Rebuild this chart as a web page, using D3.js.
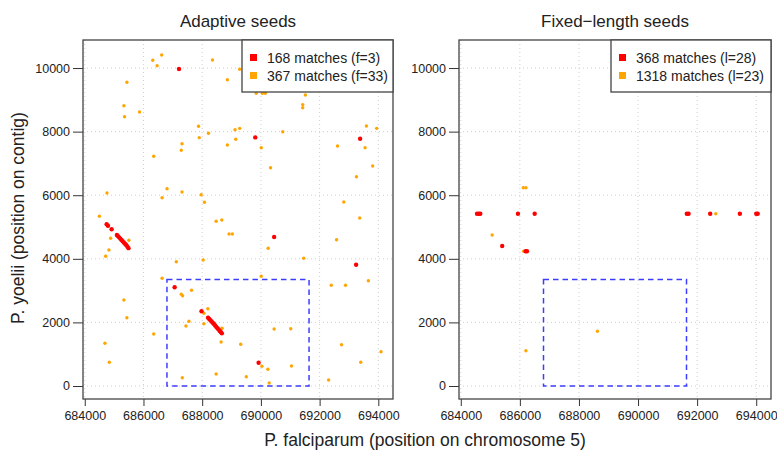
<!DOCTYPE html>
<html>
<head>
<meta charset="utf-8">
<script src="https://cdn.jsdelivr.net/npm/d3@7"></script>
<style>
  body { margin: 0; background: #fff; }
  svg { display: block; font-family: "Liberation Sans", Arial, Helvetica, sans-serif; }
</style>
</head>
<body>
<svg id="chart" width="777" height="452"></svg>
<script>
// values (x = P. falciparum pos, y = P. yoelii pos)
const xTicks = [684000, 686000, 688000, 690000, 692000, 694000];
const yTicks = [0, 2000, 4000, 6000, 8000, 10000];
const panelTitles = ['Adaptive seeds', 'Fixed\u2212length seeds'];
const legendLabels = [
  ['168 matches (f=3)', '367 matches (f=33)'],
  ['368 matches (l=28)', '1318 matches (l=23)']
];
// region of interest (dashed box)
const roi = [686800, 0, 691640, 3350];

const adaptiveRed = [
  [687210, 9970], [689808, 7819], [693380, 7778], [690451, 4686], [693243, 3815],
  [687061, 3104], [689922, 733],
  [684745, 5085], [684790, 5040], [684915, 4930], [685095, 4750], [685130, 4715],
  [685170, 4675], [685210, 4635], [685250, 4595], [685290, 4555], [685330, 4515],
  [685370, 4475], [685410, 4435], [685450, 4390], [685490, 4335],
  [687977, 2349], [688200, 2150], [688240, 2110], [688280, 2070], [688320, 2030],
  [688360, 1990], [688400, 1950], [688440, 1905], [688480, 1860], [688520, 1815],
  [688560, 1775], [688600, 1730], [688640, 1690], [688670, 1655]
];
const adaptiveOrange = [
  [686620, 10410], [686316, 10243], [686464, 10073], [688350, 10253], [688858, 9633],
  [685435, 9551], [685333, 8816], [685865, 8617], [685356, 8470], [687875, 8167],
  [689119, 8061], [687899, 7810], [688214, 7947], [688858, 7579], [689143, 7759],
  [687312, 7620], [687288, 7413], [686349, 7224], [689278, 9960], [689840, 9205],
  [690050, 9205], [690150, 9205], [691515, 9152], [691424, 8750], [691424, 8850],
  [689278, 8104], [690745, 7997], [690011, 7494], [692611, 7548], [693594, 8177],
  [693943, 8104], [693549, 7494], [693255, 6583], [693807, 6919], [690329, 6866],
  [684757, 6070], [686803, 6205], [686634, 5922], [687312, 6101], [687966, 6017],
  [688078, 5777], [684498, 5337], [688475, 5180], [688668, 5221], [688915, 4780],
  [689028, 4780], [684881, 4645], [685502, 4582], [684824, 4277], [684712, 4079],
  [687119, 3910], [688034, 3963], [686634, 3387], [692824, 5787], [693367, 5284],
  [692577, 4601], [690248, 4331], [691458, 4016], [690011, 3450], [692397, 3167],
  [692882, 3167], [693661, 3312], [685333, 2705], [685435, 2148], [684688, 1343],
  [684837, 745], [686349, 1635], [687288, 2884], [687332, 2840], [687637, 3010],
  [688193, 2431], [688058, 2286], [687549, 2035], [687447, 1887], [688058, 1959],
  [688451, 1918], [688678, 1815], [688644, 1384], [687322, 261], [688475, 377],
  [690451, 1793], [691017, 1802], [689312, 1311], [690034, 620], [690238, 525],
  [691041, 629], [689502, 293], [690282, 94], [692746, 1299], [694092, 1079],
  [693401, 745], [692306, 189]
];

const fixedRed = [
  [684550, 5419], [684610, 5419], [684660, 5419], [685935, 5419], [686501, 5419],
  [691650, 5419], [691710, 5419], [692441, 5419], [693446, 5419], [694000, 5419],
  [694050, 5419], [685402, 4403], [686196, 4236], [686240, 4236]
];
const fixedOrange = [
  [692631, 5419], [685062, 4749], [686115, 6236], [686206, 6236], [686128, 4236],
  [686206, 1110], [688626, 1720]
];

const panels = [
  { x0: 83, x1: 393, title: panelTitles[0], legend: legendLabels[0], red: adaptiveRed, orange: adaptiveOrange, legX: 242 },
  { x0: 459, x1: 771, title: panelTitles[1], legend: legendLabels[1], red: fixedRed, orange: fixedOrange, legX: 611 }
];

const svg = d3.select('#chart');
const plotTop = 40, plotBottom = 399;
const yScale = d3.scaleLinear().domain([-409, 10882]).range([plotBottom, plotTop]);

panels.forEach((p, i) => {
  const xScale = d3.scaleLinear().domain([683940, 694500]).range([p.x0, p.x1]);
  const g = svg.append('g');

  // dotted grid
  g.selectAll('.vgrid').data(xTicks).enter().append('line')
    .attr('x1', d => xScale(d)).attr('x2', d => xScale(d))
    .attr('y1', plotTop).attr('y2', plotBottom)
    .attr('stroke', '#cfcfcf').attr('stroke-dasharray', '1,3');
  g.selectAll('.hgrid').data(yTicks).enter().append('line')
    .attr('x1', p.x0).attr('x2', p.x1)
    .attr('y1', d => yScale(d)).attr('y2', d => yScale(d))
    .attr('stroke', '#cfcfcf').attr('stroke-dasharray', '1,3');

  // axes
  const xAxis = d3.axisBottom(xScale).tickValues(xTicks).tickFormat(d3.format('d'))
    .tickSizeInner(7).tickSizeOuter(0).tickPadding(5);
  const yAxis = d3.axisLeft(yScale).tickValues(yTicks).tickFormat(d3.format('d'))
    .tickSizeInner(10).tickSizeOuter(0).tickPadding(3);
  const gx = g.append('g').attr('transform', `translate(0,${plotBottom})`).call(xAxis);
  const gy = g.append('g').attr('transform', `translate(${p.x0},0)`).call(yAxis);
  [gx, gy].forEach(a => {
    a.select('.domain').remove();
    a.selectAll('line').attr('stroke', '#333');
    a.selectAll('text').attr('font-size', 12.5).attr('fill', '#222')
      .attr('font-family', '"Liberation Sans", Arial, sans-serif');
  });

  // dashed region box
  g.append('rect')
    .attr('x', xScale(roi[0])).attr('y', yScale(roi[3]))
    .attr('width', xScale(roi[2]) - xScale(roi[0]))
    .attr('height', yScale(roi[1]) - yScale(roi[3]))
    .attr('fill', 'none').attr('stroke', '#3d3dff').attr('stroke-width', 1.5)
    .attr('stroke-dasharray', '5.5,4');

  // points
  g.selectAll('.o').data(p.orange).enter().append('circle')
    .attr('cx', d => xScale(d[0])).attr('cy', d => yScale(d[1]))
    .attr('r', 1.7).attr('fill', '#ffa500');
  g.selectAll('.r').data(p.red).enter().append('circle')
    .attr('cx', d => xScale(d[0])).attr('cy', d => yScale(d[1]))
    .attr('r', 2.2).attr('fill', '#ff0000');

  // plot frame
  g.append('rect')
    .attr('x', p.x0).attr('y', plotTop)
    .attr('width', p.x1 - p.x0).attr('height', plotBottom - plotTop)
    .attr('fill', 'none').attr('stroke', '#444').attr('stroke-width', 1.3);

  // legend
  const lg = g.append('g');
  lg.append('rect')
    .attr('x', p.legX).attr('y', plotTop).attr('width', p.x1 - p.legX).attr('height', 52)
    .attr('fill', '#fff').attr('stroke', '#444').attr('stroke-width', 1.3);
  ['#ff0000', '#ffa500'].forEach((c, k) => {
    lg.append('rect')
      .attr('x', p.legX + 8).attr('y', plotTop + 14 + k * 18)
      .attr('width', 7).attr('height', 7).attr('fill', c);
    lg.append('text')
      .attr('x', p.legX + 25).attr('y', plotTop + 23 + k * 18)
      .attr('font-size', 14).attr('fill', '#222')
      .text(p.legend[k]);
  });

  // title
  g.append('text')
    .attr('x', (p.x0 + p.x1) / 2).attr('y', 27)
    .attr('text-anchor', 'middle').attr('font-size', 17).attr('fill', '#222')
    .text(p.title);
});

// shared axis labels
svg.append('text')
  .attr('x', 425).attr('y', 446)
  .attr('text-anchor', 'middle').attr('font-size', 17.5).attr('fill', '#222')
  .text('P. falciparum (position on chromosome 5)');
svg.append('text')
  .attr('transform', 'translate(24,218) rotate(-90)')
  .attr('text-anchor', 'middle').attr('font-size', 17.5).attr('fill', '#222')
  .text('P. yoelii (position on contig)');
</script>
</body>
</html>
